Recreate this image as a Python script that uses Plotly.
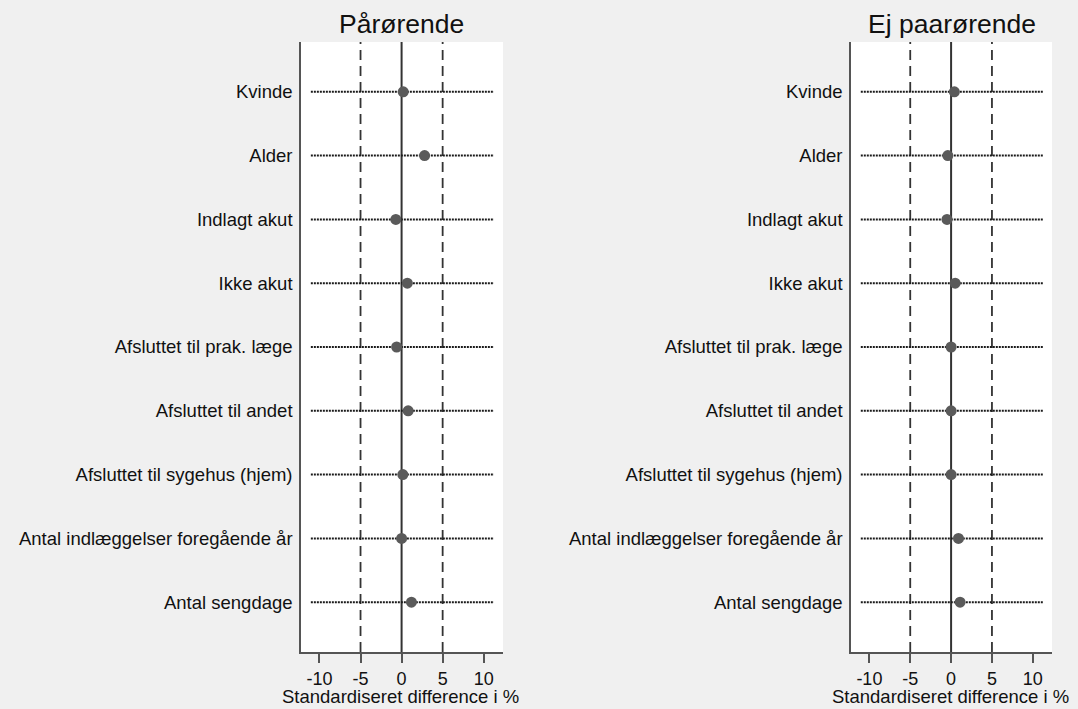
import plotly.graph_objects as go

# covariates, top to bottom
variables = [
    "Kvinde", "Alder", "Indlagt akut", "Ikke akut", "Afsluttet til prak. læge",
    "Afsluttet til andet", "Afsluttet til sygehus (hjem)",
    "Antal indlæggelser foregående år", "Antal sengdage",
]
# standardised difference (%)
paaroerende = [0.2, 2.8, -0.7, 0.7, -0.6, 0.8, 0.15, 0.0, 1.2]
ej_paaroerende = [0.4, -0.4, -0.5, 0.5, 0.0, 0.0, 0.0, 0.9, 1.1]

panel_titles = ["Pårørende", "Ej paarørende"]
x_title = "Standardiseret difference i %"
x_ticks = [-10, -5, 0, 5, 10]
x_tick_labels = ["-10", "-5", "0", "5", "10"]
ref_lines = [-5, 0, 5]
line_span = [-11.05, 11.25]

W, H = 1078, 709
FONT = "Arial, Liberation Sans, sans-serif"
axis_font = dict(family=FONT, size=18.5, color="#111111")
tick_font = dict(family=FONT, size=18, color="#111111")

fig = go.Figure()

panels = [(paaroerende, "x", "y"), (ej_paaroerende, "x2", "y2")]
for vals, xa, ya in panels:
    for v in variables:
        fig.add_trace(go.Scatter(
            x=line_span, y=[v, v], mode="lines",
            line=dict(color="#1a1a1a", width=2, dash="2px,1px"),
            xaxis=xa, yaxis=ya, hoverinfo="skip", showlegend=False
        ))
    fig.add_trace(go.Scatter(
        x=vals, y=variables, mode="markers",
        marker=dict(size=11, color="#5a5a5a"),
        xaxis=xa, yaxis=ya, showlegend=False
    ))
    for r in ref_lines:
        fig.add_shape(
            type="line", xref=xa, yref=ya + " domain",
            x0=r, x1=r, y0=0, y1=1, layer="below",
            line=dict(color="#333333", width=2 if r == 0 else 1.8,
                      dash="solid" if r == 0 else "10px,6px")
        )

xcommon = dict(
    range=[-12.25, 12.35], tickvals=x_ticks, ticktext=x_tick_labels,
    ticks="outside", ticklen=9, tickwidth=1.5, tickcolor="#555555",
    ticklabelstandoff=1,
    showline=True, linecolor="#555555", linewidth=1.5,
    showgrid=False, zeroline=False, tickfont=tick_font
)
ycommon = dict(
    type="category", range=[8.78, -0.78], domain=[0, 1],
    showline=True, linecolor="#555555", linewidth=1.5,
    showgrid=False, zeroline=False,
    ticks="outside", ticklen=3, tickcolor="rgba(0,0,0,0)", tickfont=axis_font
)

domains = [[301 / W, 503 / W], [851 / W, 1052 / W]]

annotations = []
for d, t in zip(domains, panel_titles):
    cx = (d[0] + d[1]) / 2
    annotations.append(dict(
        text=t, x=cx, y=1.0295, xref="paper", yref="paper",
        xanchor="center", yanchor="middle", showarrow=False,
        font=dict(family=FONT, size=26.5, color="#111111")
    ))
    annotations.append(dict(
        text=x_title, x=cx - 1.5 / W, y=-0.0725, xref="paper", yref="paper",
        xanchor="center", yanchor="middle", showarrow=False,
        font=axis_font
    ))

fig.update_layout(
    width=W, height=H,
    margin=dict(l=0, r=0, t=42, b=57),
    paper_bgcolor="#f0f0f0", plot_bgcolor="#ffffff",
    xaxis=dict(domain=domains[0], anchor="y", **xcommon),
    xaxis2=dict(domain=domains[1], anchor="y2", **xcommon),
    yaxis=dict(anchor="x", **ycommon),
    yaxis2=dict(anchor="x2", **ycommon),
    annotations=annotations,
    showlegend=False,
)

fig.write_html(
    "out.html",
    config={"displayModeBar": False},
    post_script="document.body.style.margin='0';document.body.style.background='#f0f0f0';",
)
